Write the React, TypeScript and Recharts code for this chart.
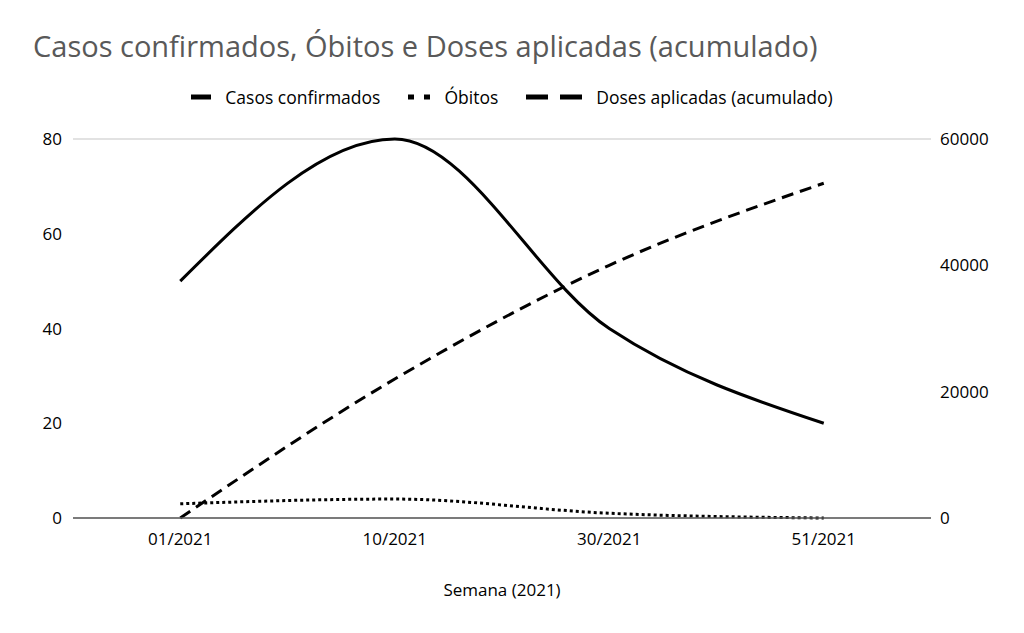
import React from "react";
import { ComposedChart, Line, XAxis, YAxis, CartesianGrid } from "recharts";

const semanas = ["01/2021", "10/2021", "30/2021", "51/2021"];
const casosConfirmados = [50, 80, 40, 20];
const obitos = [3, 4, 1, 0];
const dosesAplicadas = [0, 22000, 40000, 53000];

const leftTicks = [0, 20, 40, 60, 80];
const rightTicks = [0, 20000, 40000, 60000];

const FONT = '"Open Sans", sans-serif';

const data = semanas.map((s, i) => ({
  semana: s,
  casos: casosConfirmados[i],
  obitos: obitos[i],
  doses: dosesAplicadas[i],
}));

const series = [
  { key: "casos", name: "Casos confirmados", dash: undefined as string | undefined, axis: "left", iconW: 20, iconDash: undefined as string | undefined },
  { key: "obitos", name: "Óbitos", dash: "3 3", axis: "left", iconW: 22, iconDash: "6 10" },
  { key: "doses", name: "Doses aplicadas (acumulado)", dash: "12 7", axis: "right", iconW: 56, iconDash: "22 12" },
];

export default function App() {
  return (
    <div style={{ position: "absolute", left: 0, top: 0, width: 1024, height: 633, background: "#fff", fontFamily: FONT }}>
      <div style={{ position: "absolute", left: 33, top: 27, fontSize: 29, color: "#595959", whiteSpace: "nowrap", lineHeight: "38px" }}>
        Casos confirmados, Óbitos e Doses aplicadas (acumulado)
      </div>
      <div style={{ position: "absolute", left: 0, top: 85, width: 1024, display: "flex", justifyContent: "center", alignItems: "center", fontSize: 17.5, color: "#000", lineHeight: "24px" }}>
        {series.map((s) => (
          <div key={s.key} style={{ display: "flex", alignItems: "center", margin: "0 14px" }}>
            <svg width={s.iconW} height={10} style={{ marginRight: 14 }}>
              <line x1={0} y1={5} x2={s.iconW} y2={5} stroke="#000" strokeWidth={5} strokeDasharray={s.iconDash} />
            </svg>
            <span>{s.name}</span>
          </div>
        ))}
      </div>
      <ComposedChart width={1024} height={633} data={data} margin={{ top: 139, right: 13, bottom: 35, left: 13 }} style={{ position: "absolute", left: 0, top: 0 }}>
        <CartesianGrid vertical={false} stroke="#d9d9d9" strokeWidth={1.5} />
        <XAxis
          dataKey="semana"
          scale="band"
          height={80}
          tickLine={false}
          tickSize={6}
          tickMargin={9}
          axisLine={{ stroke: "#595959", strokeWidth: 1.5 }}
          tick={{ fill: "#000", fontSize: 17, fontFamily: FONT }}
          label={{ value: "Semana (2021)", position: "insideBottom", offset: 2, fill: "#000", fontSize: 17, fontFamily: FONT }}
        />
        <YAxis
          yAxisId="left"
          orientation="left"
          width={60}
          domain={[0, 80]}
          ticks={leftTicks}
          axisLine={false}
          tickLine={false}
          tickSize={6}
          tickMargin={5}
          tick={{ fill: "#000", fontSize: 17, fontFamily: FONT }}
        />
        <YAxis
          yAxisId="right"
          orientation="right"
          width={80}
          domain={[0, 60000]}
          ticks={rightTicks}
          axisLine={false}
          tickLine={false}
          tickSize={6}
          tickMargin={3}
          tick={{ fill: "#000", fontSize: 17, fontFamily: FONT }}
        />
        {series.map((s) => (
          <Line
            key={s.key}
            yAxisId={s.axis}
            type="monotone"
            dataKey={s.key}
            name={s.name}
            stroke="#000"
            strokeWidth={3}
            strokeDasharray={s.dash}
            dot={false}
            activeDot={false}
            isAnimationActive={false}
          />
        ))}
      </ComposedChart>
    </div>
  );
}
